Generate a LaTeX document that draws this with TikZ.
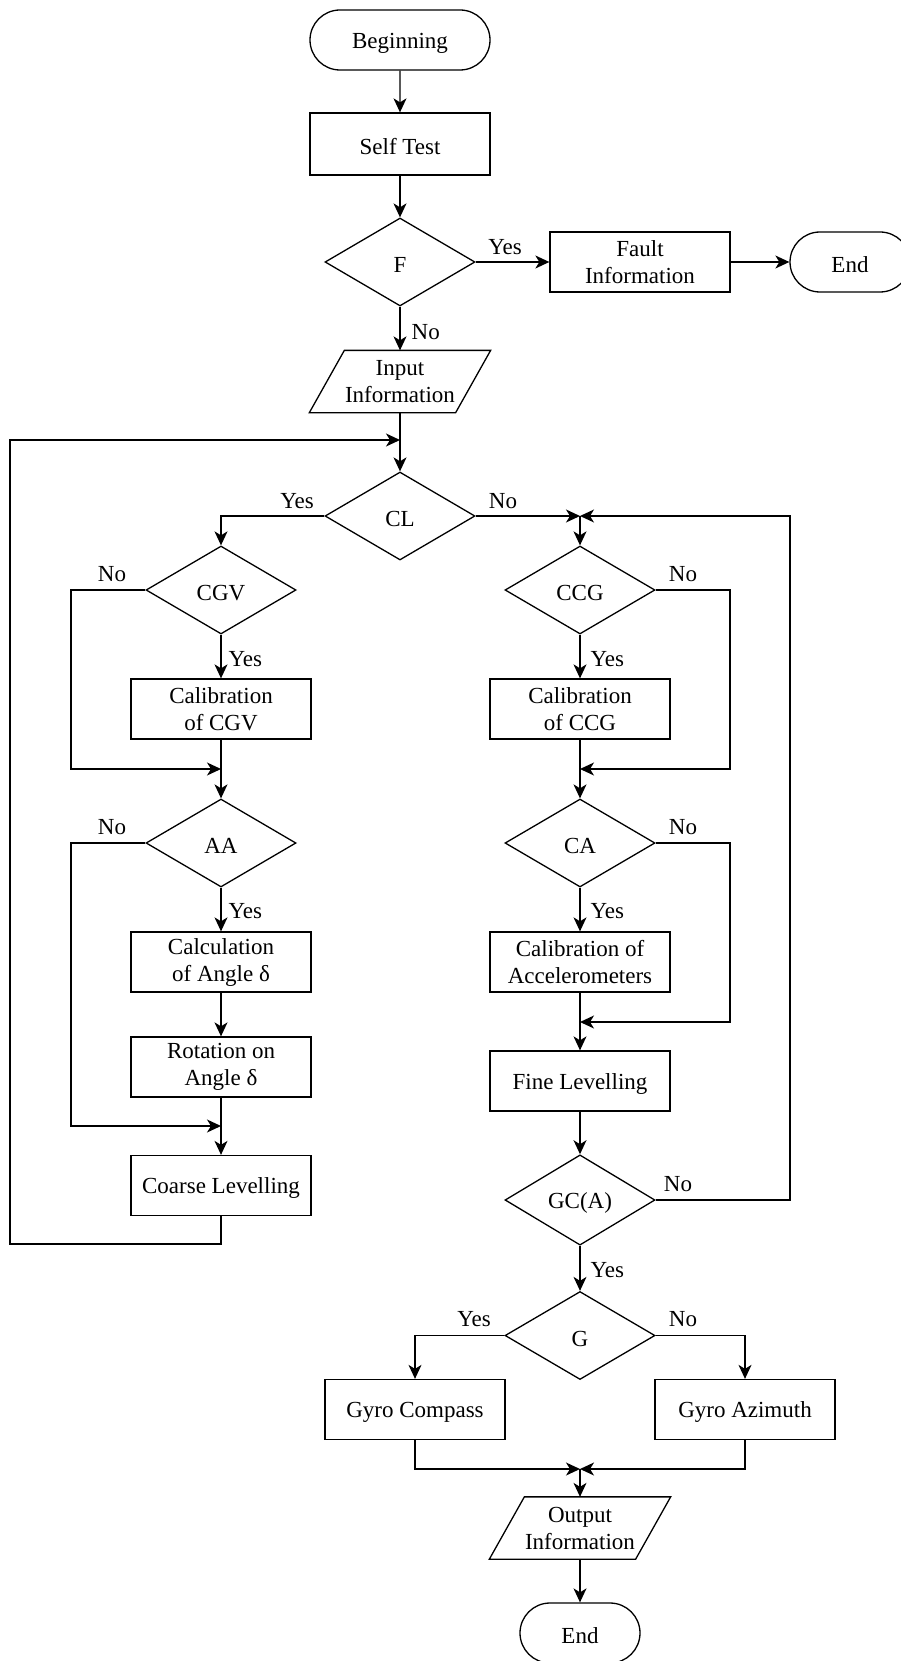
\documentclass[tikz,border=0pt]{standalone}
\usepackage{fontspec}
\setmainfont{Liberation Serif}
\usetikzlibrary{shapes.geometric,shapes.misc,arrows.meta}
\begin{document}
\begin{tikzpicture}[x=1pt,y=-1pt,
  font=\fontsize{23}{27}\selectfont,
  line width=1.3pt,
  >={Stealth[length=14pt,width=13pt,inset=4pt]},
  lowtext/.style={execute at begin node={\rule{0pt}{21.5pt}}},
  box/.style={draw,rectangle,minimum width=180pt,minimum height=60pt,inner sep=0pt,align=center,lowtext},
  term/.style={draw,rounded rectangle,minimum width=180pt,minimum height=60pt,inner sep=0pt,lowtext},
  dia/.style={draw,diamond,minimum width=150pt,minimum height=88pt,inner sep=0pt,lowtext},
  io/.style={minimum width=180pt,minimum height=61pt,inner sep=0pt,align=center,lowtext},
  lbl/.style={inner sep=0pt},
]
\fill[white] (0,0) rectangle (901,1661);
\useasboundingbox (0,0) rectangle (901,1661);
\clip (0,0) rectangle (901,1661);

% nodes
\node[term] (beg) at (400,40) {Beginning};
\node[box,minimum height=62pt] (self) at (400,144) {Self Test};
\node[dia] (F) at (400,262) {F};
\node[box] (fault) at (640,262) {Fault\\Information};
\node[term,minimum width=120pt] (end1) at (850,262) {End};
\node[io] (inp) at (400,381.5) {Input\\Information};
\draw (inp.south west) -- ([xshift=35pt]inp.north west) -- (inp.north east) -- ([xshift=-35pt]inp.south east) -- cycle;
\node[dia] (CL) at (400,516) {CL};
\node[dia] (CGV) at (221,590) {CGV};
\node[dia] (CCG) at (580,590) {CCG};
\node[box] (cgvc) at (221,709) {Calibration\\of CGV};
\node[box] (ccgc) at (580,709) {Calibration\\of CCG};
\node[dia] (AA) at (221,843) {AA};
\node[dia] (CA) at (580,843) {CA};
\node[box] (calc) at (221,962) {Calculation\\of Angle δ};
\node[box] (acc) at (580,962) {Calibration of\\Accelerometers};
\node[box] (rot) at (221,1067) {Rotation on\\Angle δ};
\node[box] (fine) at (580,1081) {Fine Levelling};
\node[box] (coarse) at (221,1185.5) {Coarse Levelling};
\node[dia] (GCA) at (580,1200) {GC(A)};
\node[dia] (G) at (580,1335.5) {G};
\node[box] (gc) at (415,1409.5) {Gyro Compass};
\node[box] (ga) at (745,1409.5) {Gyro Azimuth};
\node[io] (out) at (580,1528) {Output\\Information};
\draw (out.south west) -- ([xshift=35pt]out.north west) -- (out.north east) -- ([xshift=-35pt]out.south east) -- cycle;
\node[term,minimum width=120pt] (end2) at (580,1633) {End};

% junction coordinates
\coordinate (loopR) at (400,440);
\coordinate (lb) at (10,1244);
\coordinate (mR) at (580,516);
\coordinate (rr) at (790,516);
\coordinate (l1) at (71,769);
\coordinate (m1) at (221,769);
\coordinate (l2) at (71,1126);
\coordinate (m2) at (221,1126);
\coordinate (r1) at (730,769);
\coordinate (m3) at (580,769);
\coordinate (r2) at (730,1022);
\coordinate (m4) at (580,1022);
\coordinate (m5) at (580,1469);

% connectors
\draw[->] (beg) -- (self);
\draw[->] (self) -- (F);
\draw[->] (F) -- (fault);
\draw[->] (fault) -- (end1);
\draw[->] (F) -- (inp);
\draw[->] (inp) -- (CL);
\draw[->] (coarse.south) |- (lb) |- (loopR);
\draw[->] (CL.west) -| (CGV.north);
\draw[->] (CL.east) -- (mR);
\draw[->] (GCA.east) -| (rr) -- (mR);
\draw[->] (mR) -- (CCG.north);
\draw[->] (CGV) -- (cgvc);
\draw[->] (CGV.west) -| (l1) -- (m1);
\draw[->] (cgvc) -- (AA);
\draw[->] (AA) -- (calc);
\draw[->] (AA.west) -| (l2) -- (m2);
\draw[->] (calc) -- (rot);
\draw[->] (rot) -- (coarse);
\draw[->] (CCG) -- (ccgc);
\draw[->] (CCG.east) -| (r1) -- (m3);
\draw[->] (ccgc) -- (CA);
\draw[->] (CA) -- (acc);
\draw[->] (CA.east) -| (r2) -- (m4);
\draw[->] (acc) -- (fine);
\draw[->] (fine) -- (GCA);
\draw[->] (GCA) -- (G);
\draw[->] (G.west) -| (gc.north);
\draw[->] (G.east) -| (ga.north);
\draw[->] (gc.south) |- (m5);
\draw[->] (ga.south) |- (m5);
\draw[->] (m5) -- (out);
\draw[->] (out) -- (end2);

% labels
\node[lbl] (yF) at (505,247) {Yes};
\node[lbl,anchor=west] (nF) at (411,332) {No};
\node[lbl] (yCL) at (297,501) {Yes};
\node[lbl] (nCL) at (503,501) {No};
\node[lbl] (nCGV) at (112,574) {No};
\node[lbl,anchor=west] (yCGV) at (228,659) {Yes};
\node[lbl] (nAA) at (112,827) {No};
\node[lbl,anchor=west] (yAA) at (228,911) {Yes};
\node[lbl] (nCCG) at (683,574) {No};
\node[lbl,anchor=west] (yCCG) at (590,659) {Yes};
\node[lbl] (nCA) at (683,827) {No};
\node[lbl,anchor=west] (yCA) at (590,911) {Yes};
\node[lbl] (nGCA) at (678,1184) {No};
\node[lbl,anchor=west] (yGCA) at (590,1270) {Yes};
\node[lbl] (yG) at (474,1319) {Yes};
\node[lbl] (nG) at (683,1319) {No};
\end{tikzpicture}
\end{document}
